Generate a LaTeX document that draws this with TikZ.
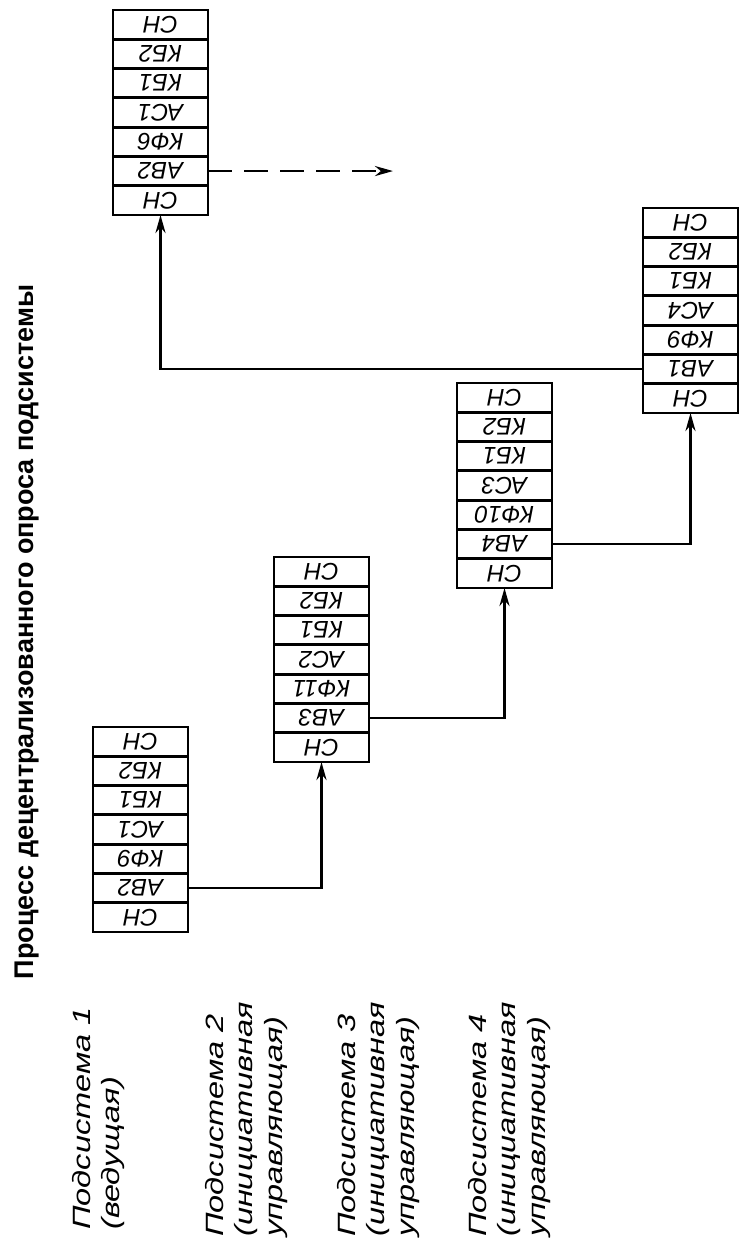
\documentclass[tikz,border=0pt]{standalone}
\usepackage{fontspec}
\setmainfont{Liberation Sans}
\newfontfamily\gostfont[FakeStretch=1.3]{Liberation Sans}
\usetikzlibrary{arrows.meta,positioning}
\newcommand{\upside}[1]{\rotatebox{180}{#1}}

\begin{document}
\begin{tikzpicture}[x=1pt, y=-1pt,
      fieldbox/.style={draw, line width=2.8pt, minimum width=95pt, minimum height=29.3pt,
        inner sep=0pt, outer sep=0pt, font=\fontsize{24}{24}\selectfont\itshape},
      subsys/.style={rotate=90, anchor=north west, align=left, inner sep=0pt,
        font=\gostfont\fontsize{25}{29.5}\selectfont\itshape},
      link/.style={line width=2.8pt, ->},
      >={Stealth[length=18pt,width=10pt]}]
    \useasboundingbox (0,0) rectangle (746,1250);
    \node[rotate=90, font=\fontsize{27}{30}\selectfont\bfseries] (title) at (27,632)
      {Процесс децентрализованного опроса подсистемы};
    % frames of the subsystems, cells listed from the bottom up
    \foreach \b/\x/\y/\ab/\kf/\ac in {1/93/932/АВ2/КФ9/АС1, 2/274/762/АВ3/КФ11/АС2,
        3/457/588/АВ4/КФ10/АС3, 4/643/413/АВ1/КФ9/АС4, 5/113/215/АВ2/КФ6/АС1} {
      \node[fieldbox, anchor=south west] (b\b-1) at (\x,\y) {\upside{СН}};
      \node[fieldbox, above=0pt of b\b-1] (b\b-2) {\upside{\ab}};
      \node[fieldbox, above=0pt of b\b-2] (b\b-3) {\upside{\kf}};
      \node[fieldbox, above=0pt of b\b-3] (b\b-4) {\upside{\ac}};
      \node[fieldbox, above=0pt of b\b-4] (b\b-5) {\upside{КБ1}};
      \node[fieldbox, above=0pt of b\b-5] (b\b-6) {\upside{КБ2}};
      \node[fieldbox, above=0pt of b\b-6] (b\b-7) {\upside{СН}};
    }
    \draw[link] (b1-2.east) -| (b2-1.south);
    \draw[link] (b2-2.east) -| (b3-1.south);
    \draw[link] (b3-2.east) -| (b4-1.south);
    \draw[link] (b4-2.west) -| (b5-1.south);
    \coordinate[right=185pt of b5-2.east] (next);
    \draw[link, dash pattern=on 24pt off 12pt] (b5-2.east) -- (next);
    % subsystem names
    \node[subsys] (s1) at (72,1230) {Подсистема 1\\(ведущая)};
    \node[subsys] (s2) at (205,1237) {Подсистема 2\\(инициативная\\управляющая)};
    \node[subsys] (s3) at (337,1237) {Подсистема 3\\(инициативная\\управляющая)};
    \node[subsys] (s4) at (468,1237) {Подсистема 4\\(инициативная\\управляющая)};
\end{tikzpicture}
\end{document}
